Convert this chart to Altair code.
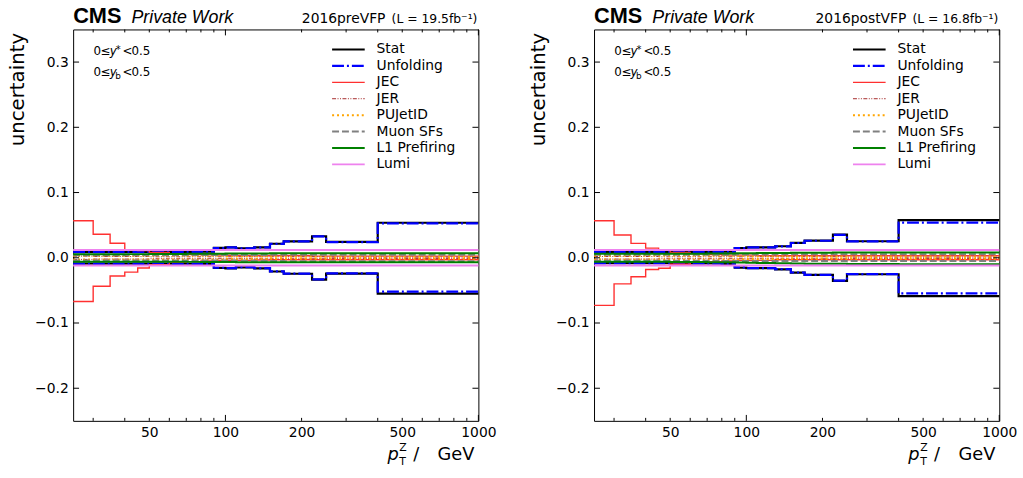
import altair as alt
import pandas as pd

# ---------------- data ----------------
EDGES = [25, 30, 35, 40, 45, 50, 60, 70, 80, 90, 100, 110, 130, 150, 170, 220, 250, 400, 1000]

SERIES = ["Stat", "Unfolding", "JEC", "JER", "PUJetID", "Muon SFs", "L1 Prefiring", "Lumi"]

X_LABELS = [50, 100, 200, 500, 1000]
X_MAJOR = [100, 1000]
X_MINOR = [30, 40, 50, 60, 70, 80, 90, 200, 300, 400, 500, 600, 700, 800, 900]
Y_TICKS = [-0.2, -0.1, 0.0, 0.1, 0.2, 0.3]

# 2016preVFP
PRE_STAT_UP = [0.0088, 0.0088, 0.0088, 0.0088, 0.0088, 0.0088, 0.0089, 0.0090, 0.0095, 0.0152, 0.0160, 0.0145, 0.0160, 0.0215, 0.0252, 0.0330, 0.0243, 0.0537]
PRE_STAT_DN = [-0.0090, -0.0090, -0.0090, -0.0090, -0.0090, -0.0090, -0.0091, -0.0092, -0.0097, -0.0155, -0.0162, -0.0147, -0.0162, -0.0210, -0.0245, -0.0334, -0.0243, -0.0550]
PRE_UNF_UP = [0.0087, 0.0087, 0.0087, 0.0087, 0.0087, 0.0087, 0.0088, 0.0089, 0.0094, 0.0150, 0.0158, 0.0143, 0.0158, 0.0212, 0.0250, 0.0327, 0.0240, 0.0527]
PRE_UNF_DN = [-0.0089, -0.0089, -0.0089, -0.0089, -0.0089, -0.0089, -0.0090, -0.0091, -0.0096, -0.0153, -0.0160, -0.0145, -0.0160, -0.0208, -0.0243, -0.0331, -0.0240, -0.0520]
PRE_JEC_UP = [0.0567, 0.0360, 0.0223, 0.0120, 0.0110, 0.0080, 0.0060, 0.0050, 0.0045, 0.0040, 0.0035, 0.0030, 0.0030, 0.0030, 0.0030, 0.0025, 0.0025, 0.0025]
PRE_JEC_DN = [-0.0670, -0.0436, -0.0280, -0.0220, -0.0157, -0.0107, -0.0070, -0.0060, -0.0050, -0.0045, -0.0040, -0.0040, -0.0035, -0.0030, -0.0030, -0.0030, -0.0030, -0.0030]
PRE_JER_UP = [0.0025, 0.0020, 0.0020, 0.0020, 0.0020, 0.0015, 0.0015, 0.0015, 0.0015, 0.0015, 0.0015, 0.0015, 0.0015, 0.0015, 0.0015, 0.0015, 0.0010, 0.0010]
PRE_JER_DN = [-0.0025, -0.0020, -0.0020, -0.0020, -0.0020, -0.0015, -0.0015, -0.0015, -0.0015, -0.0015, -0.0015, -0.0015, -0.0015, -0.0015, -0.0015, -0.0015, -0.0010, -0.0010]
PRE_PU_UP = [0.0030, 0.0030, 0.0030, 0.0030, 0.0030, 0.0030, 0.0030, 0.0030, 0.0030, 0.0030, 0.0025, 0.0025, 0.0025, 0.0020, 0.0020, 0.0020, 0.0020, 0.0020]
PRE_PU_DN = [-0.0025, -0.0025, -0.0025, -0.0025, -0.0025, -0.0025, -0.0025, -0.0025, -0.0025, -0.0025, -0.0020, -0.0020, -0.0020, -0.0015, -0.0015, -0.0015, -0.0015, -0.0015]
PRE_MU_UP = [0.0040, 0.0040, 0.0040, 0.0040, 0.0040, 0.0040, 0.0040, 0.0042, 0.0042, 0.0043, 0.0043, 0.0044, 0.0044, 0.0045, 0.0045, 0.0045, 0.0045, 0.0045]
PRE_MU_DN = [-0.0040, -0.0040, -0.0040, -0.0040, -0.0040, -0.0040, -0.0040, -0.0042, -0.0042, -0.0043, -0.0043, -0.0044, -0.0044, -0.0050, -0.0052, -0.0055, -0.0055, -0.0055]
PRE_L1_UP = [0.0055, 0.0055, 0.0055, 0.0056, 0.0056, 0.0057, 0.0058, 0.0060, 0.0062, 0.0063, 0.0064, 0.0065, 0.0066, 0.0068, 0.0069, 0.0070, 0.0070, 0.0070]
PRE_L1_DN = [-0.0060, -0.0060, -0.0060, -0.0060, -0.0060, -0.0061, -0.0062, -0.0063, -0.0064, -0.0065, -0.0066, -0.0067, -0.0068, -0.0069, -0.0070, -0.0070, -0.0070, -0.0070]
PRE_LUMI_UP = [0.0120, 0.0120, 0.0120, 0.0120, 0.0120, 0.0120, 0.0120, 0.0120, 0.0120, 0.0120, 0.0120, 0.0120, 0.0120, 0.0120, 0.0120, 0.0120, 0.0120, 0.0120]
PRE_LUMI_DN = [-0.0120, -0.0120, -0.0120, -0.0120, -0.0120, -0.0120, -0.0120, -0.0120, -0.0120, -0.0120, -0.0120, -0.0120, -0.0120, -0.0120, -0.0120, -0.0120, -0.0120, -0.0120]

# 2016postVFP
POST_STAT_UP = [0.0087, 0.0087, 0.0087, 0.0087, 0.0087, 0.0087, 0.0088, 0.0089, 0.0094, 0.0150, 0.0160, 0.0160, 0.0177, 0.0228, 0.0263, 0.0354, 0.0253, 0.0578]
POST_STAT_DN = [-0.0082, -0.0082, -0.0082, -0.0082, -0.0082, -0.0083, -0.0085, -0.0088, -0.0093, -0.0150, -0.0160, -0.0160, -0.0177, -0.0228, -0.0263, -0.0354, -0.0253, -0.0588]
POST_UNF_UP = [0.0086, 0.0086, 0.0086, 0.0086, 0.0086, 0.0086, 0.0087, 0.0088, 0.0093, 0.0148, 0.0158, 0.0158, 0.0175, 0.0226, 0.0261, 0.0351, 0.0250, 0.0540]
POST_UNF_DN = [-0.0081, -0.0081, -0.0081, -0.0081, -0.0081, -0.0082, -0.0084, -0.0087, -0.0092, -0.0148, -0.0158, -0.0158, -0.0175, -0.0226, -0.0261, -0.0351, -0.0250, -0.0547]
POST_JEC_UP = [0.0567, 0.0350, 0.0220, 0.0147, 0.0120, 0.0080, 0.0060, 0.0050, 0.0040, 0.0040, 0.0040, 0.0030, 0.0030, 0.0030, 0.0030, 0.0030, 0.0030, 0.0030]
POST_JEC_DN = [-0.0730, -0.0400, -0.0290, -0.0180, -0.0160, -0.0100, -0.0070, -0.0060, -0.0050, -0.0040, -0.0040, -0.0040, -0.0030, -0.0030, -0.0030, -0.0030, -0.0030, -0.0030]
POST_JER_UP = [0.0020, 0.0020, 0.0020, 0.0020, 0.0015, 0.0015, 0.0015, 0.0015, 0.0015, 0.0015, 0.0015, 0.0015, 0.0015, 0.0015, 0.0015, 0.0015, 0.0010, 0.0010]
POST_JER_DN = [-0.0020, -0.0020, -0.0020, -0.0020, -0.0015, -0.0015, -0.0015, -0.0015, -0.0015, -0.0015, -0.0015, -0.0015, -0.0015, -0.0015, -0.0015, -0.0015, -0.0010, -0.0010]
POST_PU_UP = [0.0030, 0.0030, 0.0030, 0.0030, 0.0030, 0.0030, 0.0030, 0.0030, 0.0030, 0.0028, 0.0025, 0.0025, 0.0025, 0.0020, 0.0020, 0.0020, 0.0020, 0.0020]
POST_PU_DN = [-0.0025, -0.0025, -0.0025, -0.0025, -0.0025, -0.0025, -0.0025, -0.0025, -0.0025, -0.0022, -0.0020, -0.0020, -0.0020, -0.0015, -0.0015, -0.0015, -0.0015, -0.0015]
POST_MU_UP = [0.0045, 0.0045, 0.0045, 0.0045, 0.0045, 0.0046, 0.0046, 0.0047, 0.0048, 0.0049, 0.0050, 0.0050, 0.0052, 0.0053, 0.0054, 0.0055, 0.0055, 0.0055]
POST_MU_DN = [-0.0045, -0.0045, -0.0045, -0.0045, -0.0045, -0.0046, -0.0046, -0.0047, -0.0048, -0.0049, -0.0050, -0.0050, -0.0050, -0.0050, -0.0050, -0.0050, -0.0050, -0.0050]
POST_L1_UP = [0.0060, 0.0060, 0.0060, 0.0060, 0.0061, 0.0062, 0.0063, 0.0065, 0.0066, 0.0068, 0.0070, 0.0072, 0.0074, 0.0076, 0.0078, 0.0080, 0.0080, 0.0081]
POST_L1_DN = [-0.0060, -0.0060, -0.0060, -0.0060, -0.0062, -0.0064, -0.0066, -0.0068, -0.0070, -0.0073, -0.0076, -0.0080, -0.0084, -0.0088, -0.0090, -0.0093, -0.0095, -0.0100]
POST_LUMI_UP = [0.0120, 0.0120, 0.0120, 0.0120, 0.0120, 0.0120, 0.0120, 0.0120, 0.0120, 0.0120, 0.0120, 0.0120, 0.0120, 0.0120, 0.0120, 0.0120, 0.0120, 0.0120]
POST_LUMI_DN = [-0.0120, -0.0120, -0.0120, -0.0120, -0.0120, -0.0120, -0.0120, -0.0120, -0.0120, -0.0120, -0.0120, -0.0120, -0.0120, -0.0120, -0.0120, -0.0120, -0.0120, -0.0120]

PRE = {
    "Stat": (PRE_STAT_UP, PRE_STAT_DN), "Unfolding": (PRE_UNF_UP, PRE_UNF_DN),
    "JEC": (PRE_JEC_UP, PRE_JEC_DN), "JER": (PRE_JER_UP, PRE_JER_DN),
    "PUJetID": (PRE_PU_UP, PRE_PU_DN), "Muon SFs": (PRE_MU_UP, PRE_MU_DN),
    "L1 Prefiring": (PRE_L1_UP, PRE_L1_DN), "Lumi": (PRE_LUMI_UP, PRE_LUMI_DN),
}
POST = {
    "Stat": (POST_STAT_UP, POST_STAT_DN), "Unfolding": (POST_UNF_UP, POST_UNF_DN),
    "JEC": (POST_JEC_UP, POST_JEC_DN), "JER": (POST_JER_UP, POST_JER_DN),
    "PUJetID": (POST_PU_UP, POST_PU_DN), "Muon SFs": (POST_MU_UP, POST_MU_DN),
    "L1 Prefiring": (POST_L1_UP, POST_L1_DN), "Lumi": (POST_LUMI_UP, POST_LUMI_DN),
}

# ---------------- styles ----------------
STYLE = {
    "Stat": dict(color="#000000", strokeWidth=2.2),
    "Unfolding": dict(color="#0000ff", strokeWidth=2.2, strokeDash=[12, 3, 2, 3]),
    "JEC": dict(color="#ff3030", strokeWidth=1.4),
    "JER": dict(color="#a52a2a", strokeWidth=1.0, strokeDash=[4, 1.5, 1, 1.5, 1, 1.5]),
    "PUJetID": dict(color="#ffa500", strokeWidth=2.0, strokeDash=[2, 3]),
    "Muon SFs": dict(color="#808080", strokeWidth=2.0, strokeDash=[7, 3]),
    "L1 Prefiring": dict(color="#008000", strokeWidth=2.0),
    "Lumi": dict(color="#ee82ee", strokeWidth=2.0),
}

W, H = 410, 396
FONT = "DejaVu Sans"
NARROW = "Liberation Sans Narrow, DejaVu Sans"


def step_frame(values):
    rows = []
    for s in SERIES:
        up, dn = values[s]
        for side, arr in (("up", up), ("dn", dn)):
            for i, e in enumerate(EDGES):
                rows.append({"series": s, "side": side, "x": e, "y": arr[min(i, len(arr) - 1)]})
    return pd.DataFrame(rows)


one = pd.DataFrame({"k": [0]})


def txt(text, x, y, size, align="left", baseline="alphabetic", style="normal", weight="normal", font=FONT):
    return alt.Chart(one).mark_text(
        text=text, align=align, baseline=baseline, fontSize=size, fontStyle=style,
        fontWeight=weight, font=font, color="black",
    ).encode(x=alt.value(x), y=alt.value(y))


def panel(values, run, lumi):
    xs = alt.Scale(type="log", domain=[25, 1000], nice=False)
    ys = alt.Scale(domain=[-0.25, 0.35], nice=False, zero=False)
    xaxis = alt.Axis(title=None, values=X_LABELS, format="d", ticks=False, tickSize=0, domain=False,
                     grid=False, labelFontSize=14, labelFont=FONT, labelColor="black",
                     labelPadding=5, labelFlush=False, labelOverlap=False)
    yaxis = alt.Axis(title="uncertainty", values=Y_TICKS, format=".1f", ticks=False, tickSize=0,
                     domain=False, grid=False, labelFontSize=14, labelFont=FONT, labelColor="black",
                     labelPadding=5, titleFontSize=20, titleFont=FONT, titleFontWeight="normal",
                     titleColor="black", titleAngle=270, titleAlign="right", titleBaseline="alphabetic",
                     titleX=-50, titleY=3)
    df = step_frame(values)
    layers = []
    for s in SERIES:
        st = STYLE[s]
        kw = dict(interpolate="step-after", color=st["color"], strokeWidth=st["strokeWidth"])
        if "strokeDash" in st:
            kw["strokeDash"] = st["strokeDash"]
        layers.append(
            alt.Chart(df[df.series == s]).mark_line(**kw).encode(
                x=alt.X("x:Q", scale=xs, axis=xaxis),
                y=alt.Y("y:Q", scale=ys, axis=yaxis),
                detail="side:N",
            )
        )
    # inward ticks
    ydf = pd.DataFrame({"v": Y_TICKS})
    xmaj = pd.DataFrame({"v": X_MAJOR})
    xmin = pd.DataFrame({"v": X_MINOR})
    tick_kw = dict(color="black", strokeWidth=1)
    layers += [
        alt.Chart(ydf).mark_rule(**tick_kw).encode(y=alt.Y("v:Q", scale=ys, axis=yaxis), x=alt.value(0), x2=alt.value(6)),
        alt.Chart(ydf).mark_rule(**tick_kw).encode(y=alt.Y("v:Q", scale=ys, axis=yaxis), x=alt.value(W - 6), x2=alt.value(W)),
        alt.Chart(xmaj).mark_rule(**tick_kw).encode(x=alt.X("v:Q", scale=xs, axis=xaxis), y=alt.value(H - 6), y2=alt.value(H)),
        alt.Chart(xmaj).mark_rule(**tick_kw).encode(x=alt.X("v:Q", scale=xs, axis=xaxis), y=alt.value(0), y2=alt.value(6)),
        alt.Chart(xmin).mark_rule(**tick_kw).encode(x=alt.X("v:Q", scale=xs, axis=xaxis), y=alt.value(H - 3), y2=alt.value(H)),
        alt.Chart(xmin).mark_rule(**tick_kw).encode(x=alt.X("v:Q", scale=xs, axis=xaxis), y=alt.value(0), y2=alt.value(3)),
    ]
    # legend
    for i, s in enumerate(SERIES):
        st = STYLE[s]
        yy = 20.3 + 16.6 * i
        kw = dict(color=st["color"], strokeWidth=st["strokeWidth"])
        if "strokeDash" in st:
            kw["strokeDash"] = st["strokeDash"]
        layers.append(alt.Chart(one).mark_rule(**kw).encode(x=alt.value(262), x2=alt.value(295), y=alt.value(yy)))
        layers.append(txt(s, 307, yy, 14, baseline="middle"))
    # rapidity annotations
    layers += [
        txt("0", 20.5, 26, 12, font=NARROW), txt("≤", 28, 26, 12, font=NARROW),
        txt("y", 37, 26, 12, style="italic", font=NARROW), txt("*", 43, 23.5, 10, font=NARROW),
        txt("<", 50, 26, 12, font=NARROW), txt("0.5", 59, 26, 12, font=NARROW),
        txt("0", 20.5, 47, 12, font=NARROW), txt("≤", 28, 47, 12, font=NARROW),
        txt("y", 37, 47, 12, style="italic", font=NARROW), txt("b", 42.5, 50, 9, font=NARROW),
        txt("<", 50, 47, 12, font=NARROW), txt("0.5", 59, 47, 12, font=NARROW),
    ]
    # header
    layers += [
        txt("CMS", 0, -7, 22, weight="bold", font="Liberation Sans"),
        txt("Private Work", 59, -7, 18, style="italic", font="Liberation Sans"),
        txt(run, 316, -7, 14, align="right"),
        txt("(L = " + lumi + "fb⁻¹)", 409, -7, 12.5, align="right"),
    ]
    # x axis title
    layers += [
        txt("p", 318, 436, 18, style="italic"),
        txt("Z", 330, 426, 11),
        txt("T", 330, 441, 11),
        txt("/", 344, 436, 18),
        txt("GeV", 406, 436, 18, align="right"),
    ]
    return alt.layer(*layers).properties(width=W, height=H)


left = panel(PRE, "2016preVFP", "19.5")
right = panel(POST, "2016postVFP", "16.8")

chart = (
    alt.hconcat(left, right, spacing=31)
    .properties(padding={"left": 7, "top": 1, "right": 5, "bottom": 5}, background="white")
    .configure_view(stroke="black", strokeWidth=1)
)

chart.save("out.html", embed_options={"renderer": "svg", "actions": False})
